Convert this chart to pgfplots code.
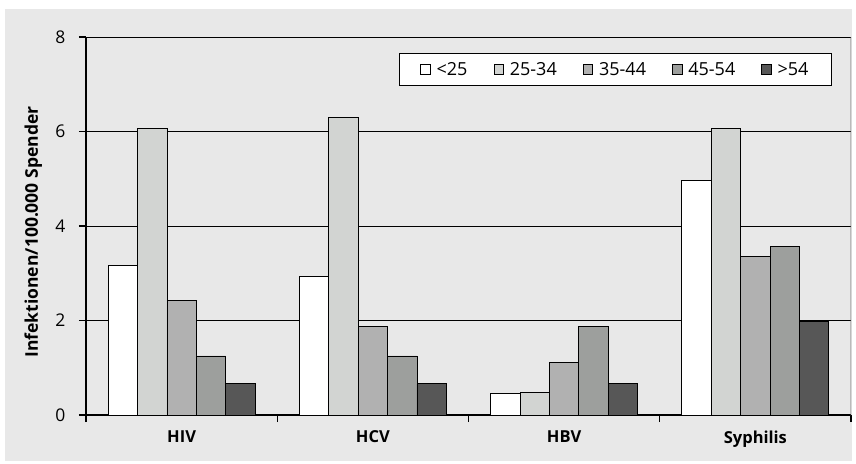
\documentclass[border=0pt]{standalone}
\usepackage{pgfplots}
\pgfplotsset{compat=1.18}
\usepackage{fontspec}
\setmainfont{Open Sans}

\definecolor{bgcol}{HTML}{E8E8E8}
\definecolor{cA}{HTML}{FFFFFF}
\definecolor{cB}{HTML}{D2D4D2}
\definecolor{cC}{HTML}{B1B1B1}
\definecolor{cD}{HTML}{9D9F9D}
\definecolor{cE}{HTML}{575757}

\begin{document}
\begin{tikzpicture}[x=1pt,y=1pt]
\fill[white] (0,0) rectangle (856,463);
\fill[bgcol] (5,2) rectangle (852,454);
\begin{axis}[
    at={(86pt,48pt)}, anchor=south west,
    scale only axis, width=765pt, height=378pt,
    xmin=-0.5, xmax=3.5, ymin=0, ymax=8,
    ybar=0pt, bar width=29.4pt,
    axis x line*=bottom, axis y line*=left,
    axis line style={-, black, line width=1.6pt},
    ytick={0,2,4,6,8},
    ymajorgrids, grid style={black, line width=0.9pt},
    xtick={-0.5,0.5,1.5,2.5,3.5}, xticklabels={},
    tick align=outside, major tick length=7pt,
    tick style={black, line width=1.2pt},
    extra x ticks={0,1,2,3},
    extra x tick labels={HIV,HCV,HBV,Syphilis},
    extra x tick style={major tick length=0pt,
        tick label style={font=\fontsize{16.5}{19}\selectfont\bfseries, yshift=-12pt}},
    y tick label style={font=\fontsize{17.5}{20}\selectfont, xshift=-10pt},
    /pgf/number format/assume math mode=true,
    ylabel={Infektionen/100.000 Spender},
    ylabel style={font=\fontsize{17.5}{20}\selectfont\bfseries,
        at={(rel axis cs:-0.069,0.484)}, anchor=center},
    legend columns=5,
    legend style={at={(0.975,0.958)}, anchor=north east,
        draw=black, line width=0.8pt, fill=white,
        font=\fontsize{18}{21}\selectfont, inner xsep=21pt, inner ysep=7pt,
        /tikz/every odd column/.append style={column sep=4pt},
        /tikz/every even column/.append style={column sep=24pt}},
    legend image code/.code={\draw[#1, line width=0.7pt] (0pt,-4.8pt) rectangle (9.6pt,4.8pt);},
]
\addplot[draw=black, fill=cA, line width=0.8pt] coordinates {(0,3.17) (1,2.93) (2,0.45) (3,4.97)};
\addplot[draw=black, fill=cB, line width=0.8pt] coordinates {(0,6.07) (1,6.30) (2,0.47) (3,6.07)};
\addplot[draw=black, fill=cC, line width=0.8pt] coordinates {(0,2.43) (1,1.87) (2,1.12) (3,3.35)};
\addplot[draw=black, fill=cD, line width=0.8pt] coordinates {(0,1.25) (1,1.25) (2,1.87) (3,3.56)};
\addplot[draw=black, fill=cE, line width=0.8pt] coordinates {(0,0.66) (1,0.66) (2,0.66) (3,1.98)};
\legend{<25, 25-34, 35-44, 45-54, >54}
\draw[black!60, line width=1pt] (rel axis cs:1,1) -- (rel axis cs:1,0) -- ++(0,-5pt);
\end{axis}
\end{tikzpicture}
\end{document}
